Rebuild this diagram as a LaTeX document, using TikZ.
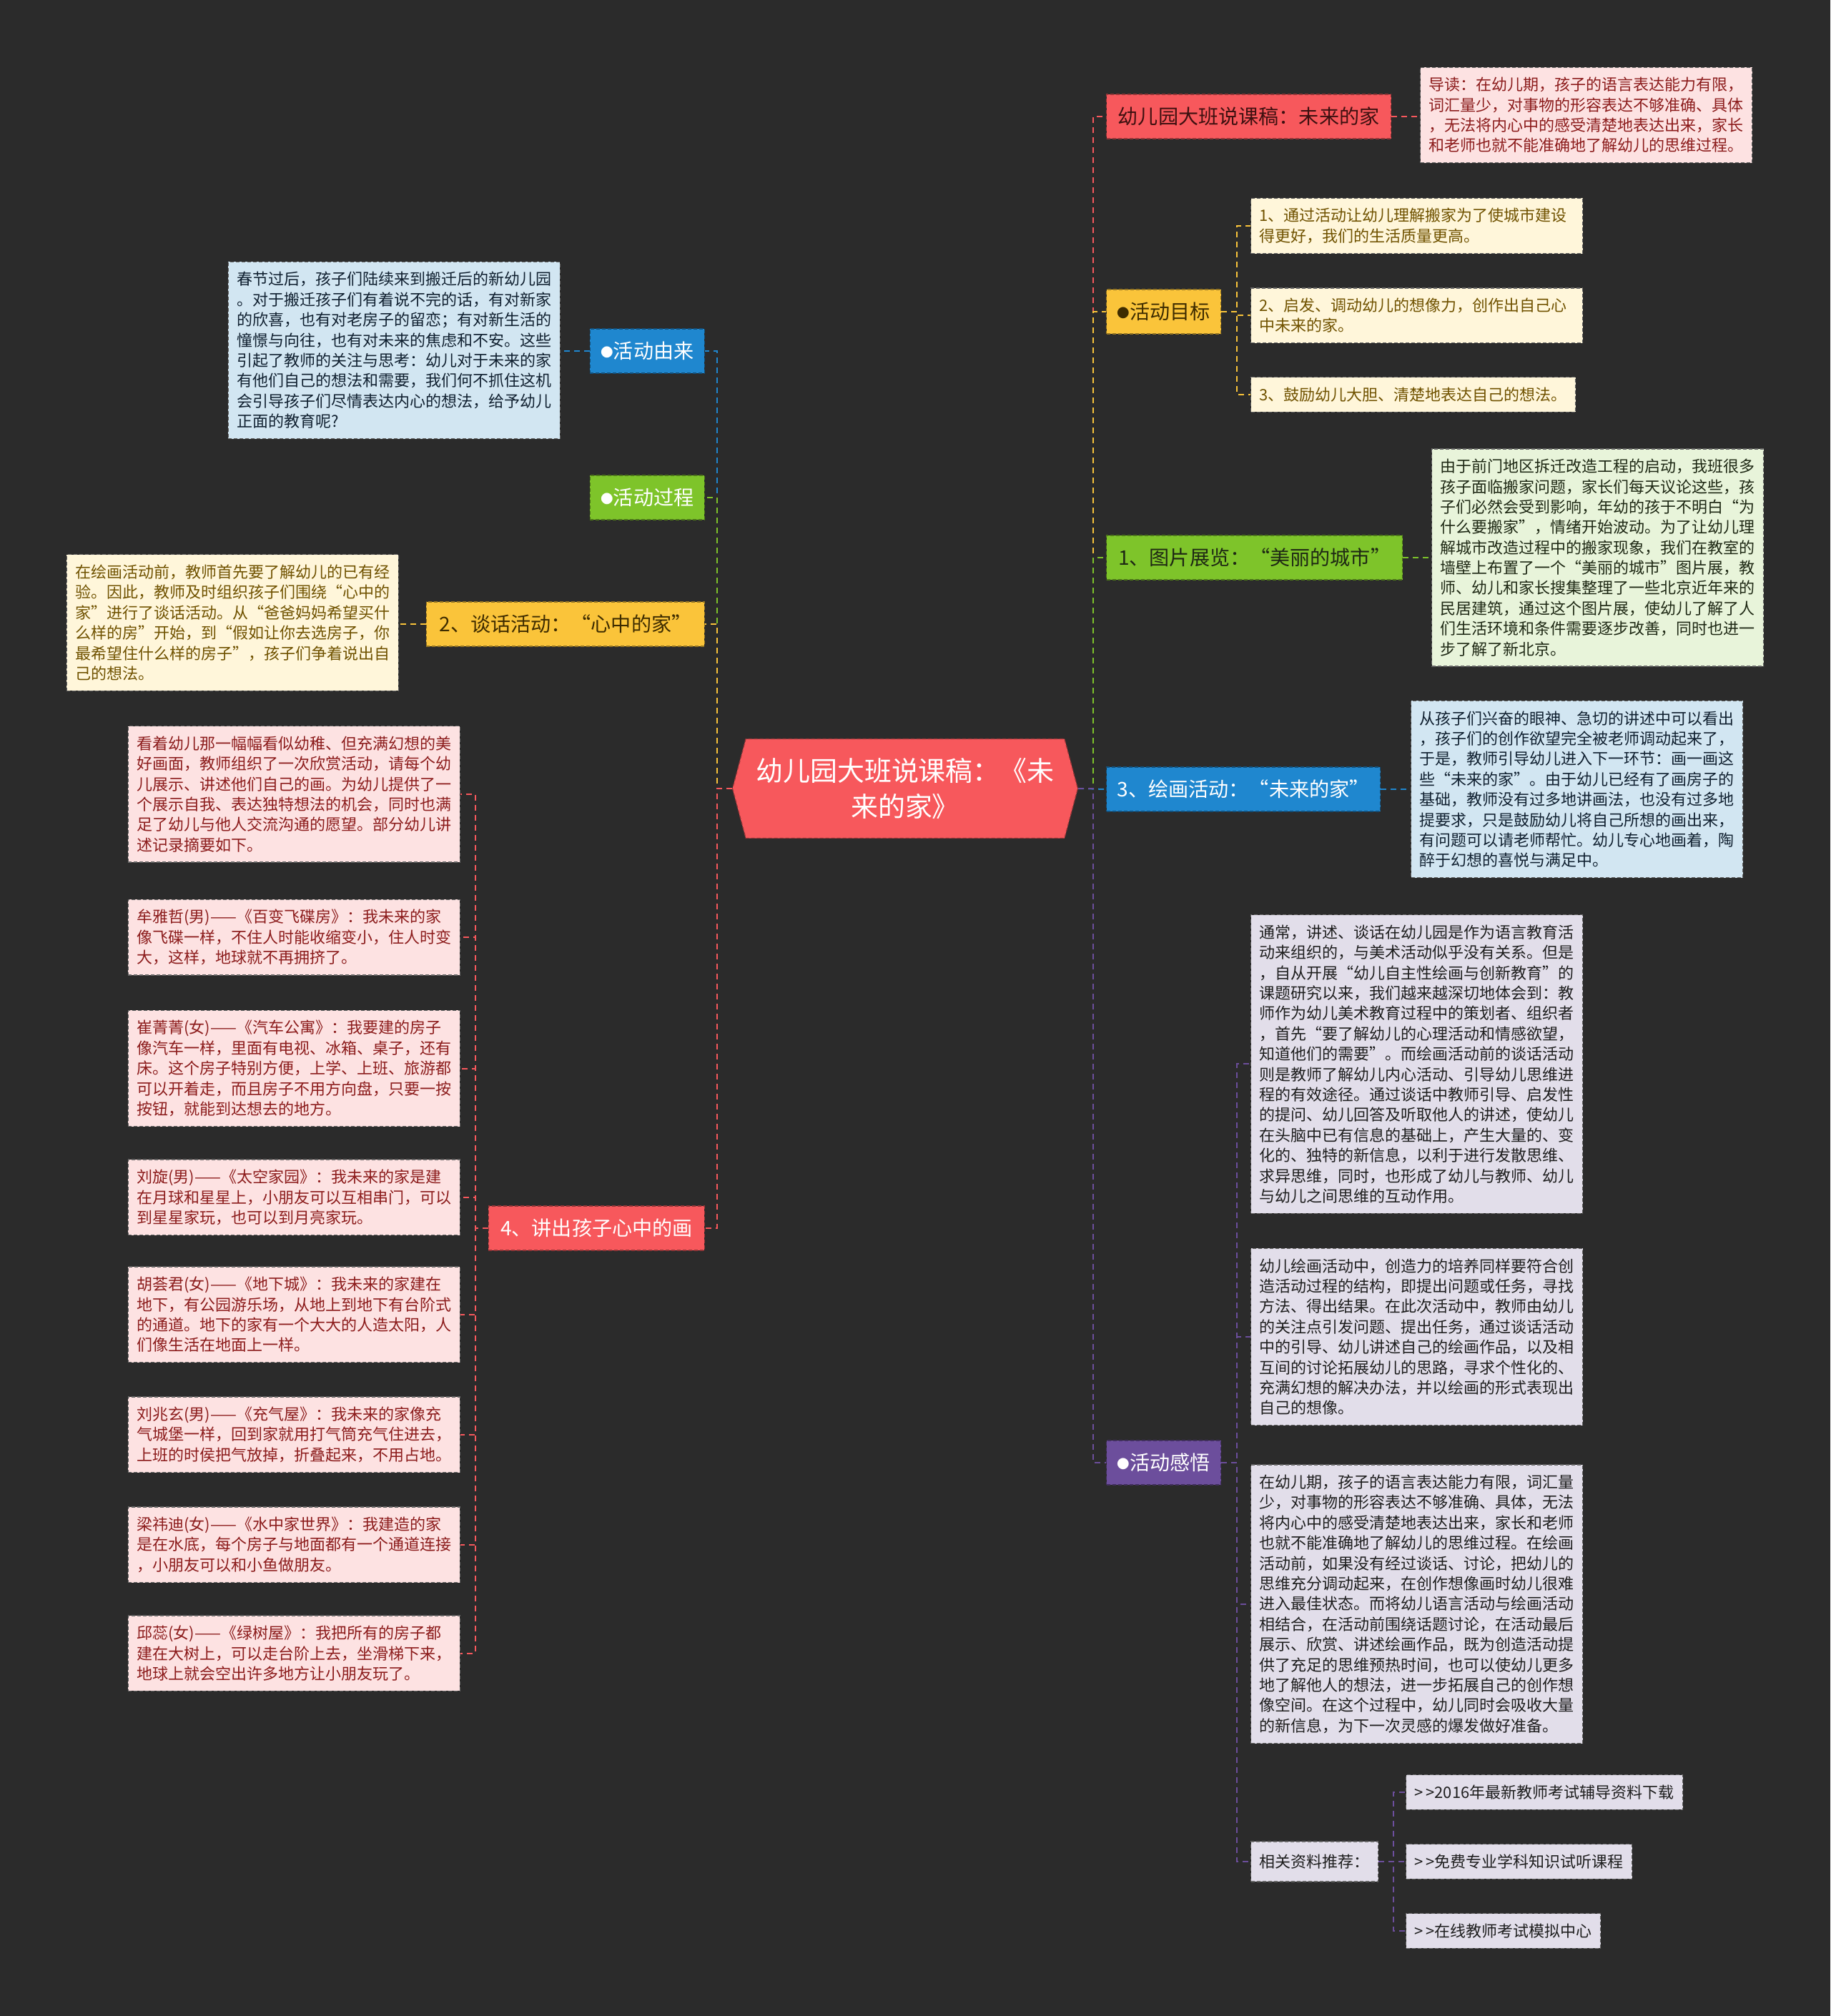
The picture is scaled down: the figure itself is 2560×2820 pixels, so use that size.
\documentclass[tikz,border=0pt]{standalone}
\usepackage{fontspec}
\setmainfont{Noto Sans CJK SC}
\usepackage{tikz}
\usetikzlibrary{positioning,shapes.symbols}

\definecolor{bgc}{RGB}{43,43,43}
\definecolor{rd}{RGB}{247,88,92}
\definecolor{rdl}{RGB}{253,226,226}
\definecolor{rdt}{RGB}{140,28,28}
\definecolor{rdk}{RGB}{62,16,16}
\definecolor{yl}{RGB}{250,196,58}
\definecolor{yll}{RGB}{255,246,218}
\definecolor{ylt}{RGB}{112,82,0}
\definecolor{ylk}{RGB}{62,44,0}
\definecolor{gn}{RGB}{126,196,42}
\definecolor{gnl}{RGB}{232,244,218}
\definecolor{gnt}{RGB}{30,40,20}
\definecolor{bl}{RGB}{31,135,207}
\definecolor{bll}{RGB}{210,230,242}
\definecolor{blt}{RGB}{16,32,48}
\definecolor{pp}{RGB}{108,78,156}
\definecolor{ppl}{RGB}{226,222,234}
\definecolor{ppt}{RGB}{30,30,30}

\newcommand\bul{\raisebox{0.7pt}{\fontsize{5}{5}\selectfont ●}}

\begin{document}
\begin{tikzpicture}[
    x=0.1mm, y=-0.1mm,
    root/.style={
        signal, signal to=west and east, signal pointer angle=150,
        fill=rd, draw=rd!60!black, dash pattern=on 0.5mm off 0.3mm,
        line width=0.12mm, text=white, align=center, inner sep=0pt,
        minimum width=48.3mm, minimum height=13.9mm,
        font=\fontsize{10.8}{14.2}\selectfont},
    topic/.style={
        fill=#1, draw=#1!60!black, dash pattern=on 0.5mm off 0.3mm,
        line width=0.12mm, minimum height=6.2mm,
        inner xsep=1.5mm, inner ysep=0.4mm,
        font=\fontsize{8}{10}\selectfont},
    leaf/.style={
        fill=#1, draw=black!60, dash pattern=on 0.5mm off 0.3mm,
        line width=0.12mm, align=left,
        inner xsep=1.2mm, inner ysep=1.4mm,
        font=\fontsize{6.26}{8.08}\selectfont},
    wide/.style={text width=44mm},
    link/.style={draw=#1, line width=0.2mm, dash pattern=on 0.8mm off 0.6mm}
]

\useasboundingbox (0,0) rectangle (2560,2820);
\fill[bgc] (0,0) rectangle (2560,2820);

%% ══════════════════════════════ ROOT ══════════════════════════════
\node[root] (root) at (1266,1103) {幼儿园大班说课稿：《未\\来的家》};

%% ══════════════════════════════ RIGHT ══════════════════════════════
\node[topic=rd, text=rdk, anchor=west, minimum width=39.8mm] (title) at (1547,163)
    {幼儿园大班说课稿：未来的家};
\node[leaf=rdl, text=rdt, wide, anchor=west] (intro) at (1986,161)
    {导读：在幼儿期，孩子的语言表达能力有限，\\
     词汇量少，对事物的形容表达不够准确、具体\\
     ，无法将内心中的感受清楚地表达出来，家长\\
     和老师也就不能准确地了解幼儿的思维过程。};

\node[topic=yl, text=ylk, anchor=west, minimum width=15.8mm] (goal) at (1547,436)
    {\bul 活动目标};
\node[leaf=yll, text=ylt, wide, anchor=west] (goal1) at (1749,316)
    {1、通过活动让幼儿理解搬家为了使城市建设\\
     得更好，我们的生活质量更高。};
\node[leaf=yll, text=ylt, wide, below=4.7mm of goal1] (goal2)
    {2、启发、调动幼儿的想像力，创作出自己心\\
     中未来的家。};
\node[leaf=yll, text=ylt, below right=4.7mm and 0mm of goal2.south west] (goal3)
    {3、鼓励幼儿大胆、清楚地表达自己的想法。};

\node[topic=gn, text=gnt, anchor=west, minimum width=41.4mm] (pics) at (1547,780)
    {1、图片展览：“美丽的城市”};
\node[leaf=gnl, text=gnt, wide, anchor=west] (picsnote) at (2002,780)
    {由于前门地区拆迁改造工程的启动，我班很多\\
     孩子面临搬家问题，家长们每天议论这些，孩\\
     子们必然会受到影响，年幼的孩于不明白“为\\
     什么要搬家”，情绪开始波动。为了让幼儿理\\
     解城市改造过程中的搬家现象，我们在教室的\\
     墙壁上布置了一个“美丽的城市”图片展，教\\
     师、幼儿和家长搜集整理了一些北京近年来的\\
     民居建筑，通过这个图片展，使幼儿了解了人\\
     们生活环境和条件需要逐步改善，同时也进一\\
     步了解了新北京。};

\node[topic=bl, text=white, anchor=west, minimum width=38.3mm] (paint) at (1547,1104)
    {3、绘画活动：“未来的家”};
\node[leaf=bll, text=blt, wide, anchor=west] (paintnote) at (1973,1104)
    {从孩子们兴奋的眼神、急切的讲述中可以看出\\
     ，孩子们的创作欲望完全被老师调动起来了，\\
     于是，教师引导幼儿进入下一环节：画一画这\\
     些“未来的家”。由于幼儿已经有了画房子的\\
     基础，教师没有过多地讲画法，也没有过多地\\
     提要求，只是鼓励幼儿将自己所想的画出来，\\
     有问题可以请老师帮忙。幼儿专心地画着，陶\\
     醉于幻想的喜悦与满足中。};

\node[topic=pp, text=white, anchor=west, minimum width=15.8mm] (sense) at (1547,2046)
    {\bul 活动感悟};
\node[leaf=ppl, text=ppt, wide, anchor=north west] (sense1) at (1749,1279)
    {通常，讲述、谈话在幼儿园是作为语言教育活\\
     动来组织的，与美术活动似乎没有关系。但是\\
     ，自从开展“幼儿自主性绘画与创新教育”的\\
     课题研究以来，我们越来越深切地体会到：教\\
     师作为幼儿美术教育过程中的策划者、组织者\\
     ，首先“要了解幼儿的心理活动和情感欲望，\\
     知道他们的需要”。而绘画活动前的谈话活动\\
     则是教师了解幼儿内心活动、引导幼儿思维进\\
     程的有效途径。通过谈话中教师引导、启发性\\
     的提问、幼儿回答及听取他人的讲述，使幼儿\\
     在头脑中已有信息的基础上，产生大量的、变\\
     化的、独特的新信息，以利于进行发散思维、\\
     求异思维，同时，也形成了幼儿与教师、幼儿\\
     与幼儿之间思维的互动作用。};
\node[leaf=ppl, text=ppt, wide, below=4.8mm of sense1] (sense2)
    {幼儿绘画活动中，创造力的培养同样要符合创\\
     造活动过程的结构，即提出问题或任务，寻找\\
     方法、得出结果。在此次活动中，教师由幼儿\\
     的关注点引发问题、提出任务，通过谈话活动\\
     中的引导、幼儿讲述自己的绘画作品，以及相\\
     互间的讨论拓展幼儿的思路，寻求个性化的、\\
     充满幻想的解决办法，并以绘画的形式表现出\\
     自己的想像。};
\node[leaf=ppl, text=ppt, wide, below=5.4mm of sense2] (sense3)
    {在幼儿期，孩子的语言表达能力有限，词汇量\\
     少，对事物的形容表达不够准确、具体，无法\\
     将内心中的感受清楚地表达出来，家长和老师\\
     也就不能准确地了解幼儿的思维过程。在绘画\\
     活动前，如果没有经过谈话、讨论，把幼儿的\\
     思维充分调动起来，在创作想像画时幼儿很难\\
     进入最佳状态。而将幼儿语言活动与绘画活动\\
     相结合，在活动前围绕话题讨论，在活动最后\\
     展示、欣赏、讲述绘画作品，既为创造活动提\\
     供了充足的思维预热时间，也可以使幼儿更多\\
     地了解他人的想法，进一步拓展自己的创作想\\
     像空间。在这个过程中，幼儿同时会吸收大量\\
     的新信息，为下一次灵感的爆发做好准备。};
\node[leaf=ppl, text=ppt, anchor=west, minimum height=5.6mm] (more) at (1749,2604)
    {相关资料推荐：};
\node[leaf=ppl, text=ppt, anchor=west] (more1) at (1966,2507)
    {>\,>2016年最新教师考试辅导资料下载};
\node[leaf=ppl, text=ppt, anchor=west] (more2) at (1966,2604)
    {>\,>免费专业学科知识试听课程};
\node[leaf=ppl, text=ppt, anchor=west] (more3) at (1966,2701)
    {>\,>在线教师考试模拟中心};

%% ══════════════════════════════ LEFT ══════════════════════════════
\node[topic=bl, text=white, anchor=east, minimum width=16mm] (origin) at (986,491)
    {\bul 活动由来};
\node[leaf=bll, text=blt, wide, anchor=east] (originnote) at (784,490)
    {春节过后，孩子们陆续来到搬迁后的新幼儿园\\
     。对于搬迁孩子们有着说不完的话，有对新家\\
     的欣喜，也有对老房子的留恋；有对新生活的\\
     憧憬与向往，也有对未来的焦虑和不安。这些\\
     引起了教师的关注与思考：幼儿对于未来的家\\
     有他们自己的想法和需要，我们何不抓住这机\\
     会引导孩子们尽情表达内心的想法，给予幼儿\\
     正面的教育呢?};

\node[topic=gn, text=white, anchor=east, minimum width=16mm] (process) at (986,696)
    {\bul 活动过程};

\node[topic=yl, text=ylk, anchor=east, minimum width=38.9mm] (talk) at (986,873)
    {2、谈话活动：“心中的家”};
\node[leaf=yll, text=ylt, wide, anchor=east] (talknote) at (558,871)
    {在绘画活动前，教师首先要了解幼儿的已有经\\
     验。因此，教师及时组织孩子们围绕“心中的\\
     家”进行了谈话活动。从“爸爸妈妈希望买什\\
     么样的房”开始，到“假如让你去选房子，你\\
     最希望住什么样的房子”，孩子们争着说出自\\
     己的想法。};

\node[topic=rd, text=white, anchor=east, minimum width=30.2mm] (tell) at (986,1718)
    {4、讲出孩子心中的画};
\node[leaf=rdl, text=rdt, wide, anchor=north east] (story0) at (644,1015)
    {看着幼儿那一幅幅看似幼稚、但充满幻想的美\\
     好画面，教师组织了一次欣赏活动，请每个幼\\
     儿展示、讲述他们自己的画。为幼儿提供了一\\
     个展示自我、表达独特想法的机会，同时也满\\
     足了幼儿与他人交流沟通的愿望。部分幼儿讲\\
     述记录摘要如下。};
\node[leaf=rdl, text=rdt, wide, below=5.1mm of story0] (story1)
    {牟雅哲(男)——《百变飞碟房》：我未来的家\\
     像飞碟一样，不住人时能收缩变小，住人时变\\
     大，这样，地球就不再拥挤了。};
\node[leaf=rdl, text=rdt, wide, below=4.8mm of story1] (story2)
    {崔菁菁(女)——《汽车公寓》：我要建的房子\\
     像汽车一样，里面有电视、冰箱、桌子，还有\\
     床。这个房子特别方便，上学、上班、旅游都\\
     可以开着走，而且房子不用方向盘，只要一按\\
     按钮，就能到达想去的地方。};
\node[leaf=rdl, text=rdt, wide, below=4.5mm of story2] (story3)
    {刘旋(男)——《太空家园》：我未来的家是建\\
     在月球和星星上，小朋友可以互相串门，可以\\
     到星星家玩，也可以到月亮家玩。};
\node[leaf=rdl, text=rdt, wide, below=4.3mm of story3] (story4)
    {胡荟君(女)——《地下城》：我未来的家建在\\
     地下，有公园游乐场，从地上到地下有台阶式\\
     的通道。地下的家有一个大大的人造太阳，人\\
     们像生活在地面上一样。};
\node[leaf=rdl, text=rdt, wide, below=4.7mm of story4] (story5)
    {刘兆玄(男)——《充气屋》：我未来的家像充\\
     气城堡一样，回到家就用打气筒充气住进去，\\
     上班的时侯把气放掉，折叠起来，不用占地。};
\node[leaf=rdl, text=rdt, wide, below=4.7mm of story5] (story6)
    {梁祎迪(女)——《水中家世界》：我建造的家\\
     是在水底，每个房子与地面都有一个通道连接\\
     ，小朋友可以和小鱼做朋友。};
\node[leaf=rdl, text=rdt, wide, below=4.5mm of story6] (story7)
    {邱蕊(女)——《绿树屋》：我把所有的房子都\\
     建在大树上，可以走台阶上去，坐滑梯下来，\\
     地球上就会空出许多地方让小朋友玩了。};

%% ══════════════════════════════ LINKS ══════════════════════════════
%% root -> right topics (top one first, so lower colours sit on top)
\draw[link=rd] (root.east) -- ++(21,0) |- (title.west);
\draw[link=yl] (root.east) -- ++(21,0) |- (goal.west);
\draw[link=gn] (root.east) -- ++(21,0) |- (pics.west);
\draw[link=bl] (root.east) -- (paint.west);
\draw[link=pp] (root.east) -- ++(21,0) |- (sense.west);

%% root -> left topics
\draw[link=bl] (root.west) -- ++(-21,0) |- (origin.east);
\draw[link=gn] (root.west) -- ++(-21,0) |- (process.east);
\draw[link=yl] (root.west) -- ++(-21,0) |- (talk.east);
\draw[link=rd] (root.west) -- ++(-21,0) |- (tell.east);

%% topics -> notes
\draw[link=rd] (title.east) -- (title.east -| intro.west);
\draw[link=gn] (pics.east) -- (pics.east -| picsnote.west);
\draw[link=bl] (paint.east) -- (paint.east -| paintnote.west);
\draw[link=bl] (origin.west) -- (origin.west -| originnote.east);
\draw[link=yl] (talk.west) -- (talk.west -| talknote.east);
\foreach \n in {goal1,goal2,goal3}
    \draw[link=yl] (goal.east) -- ++(22,0) |- (\n.west);
\foreach \n in {sense1,sense2,sense3,more}
    \draw[link=pp] (sense.east) -- ++(22,0) |- (\n.west);
\foreach \n in {more1,more2,more3}
    \draw[link=pp] (more.east) -- ++(21,0) |- (\n.west);
\foreach \n in {story0,story1,story2,story3,story4,story5,story6,story7}
    \draw[link=rd] (tell.west) -- ++(-18,0) |- (\n.east);

\end{tikzpicture}
\end{document}
